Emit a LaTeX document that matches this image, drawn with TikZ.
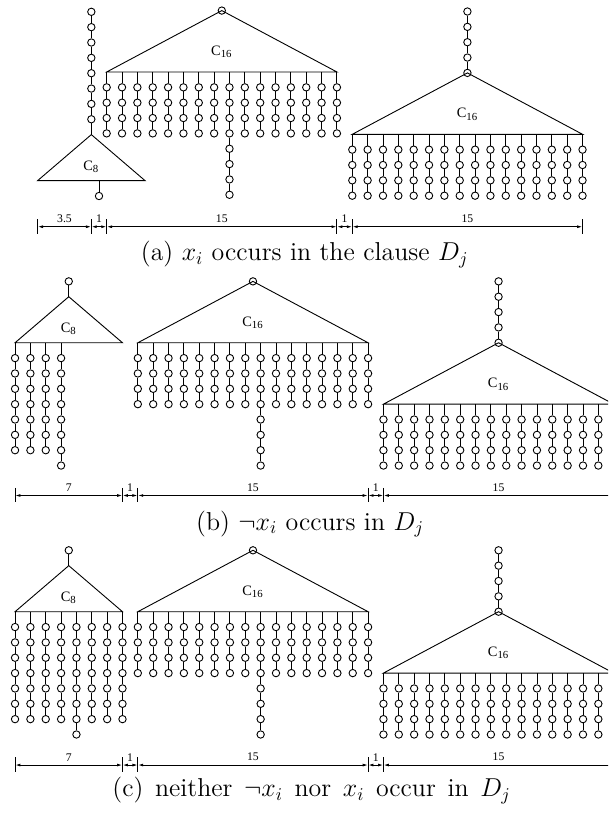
\documentclass[tikz,border=0pt]{standalone}
\usepackage{fontspec}
\newfontfamily\timesfont{Liberation Serif}
\usetikzlibrary{arrows.meta,calc}

\tikzset{
  vtx/.style={draw, circle, inner sep=0pt, minimum size=1.44mm},
  tlab/.style={font=\timesfont\fontsize{8}{9}\selectfont, inner sep=0pt},
  dlab/.style={font=\timesfont\fontsize{6.5}{7}\selectfont, inner sep=0.5pt},
  dimline/.style={{Latex[length=3pt,width=1.6pt]}-{Latex[length=3pt,width=1.6pt]}},
  captext/.style={font=\fontsize{14.4}{17}\selectfont, anchor=base, inner sep=0pt},
}

% chain of #3 circles #2-1,... hanging from #1, going up (#4=1) or down (#4=-1)
\newcommand{\chain}[4]{%
  \foreach \k [count=\p from 0] in {1,...,#3}{
    \path (#1) ++(0,#4*\k) node[vtx] (#2-\k) {};
    \ifnum\k=1 \draw (#1) -- (#2-1); \else \draw (#2-\p) -- (#2-\k); \fi
  }}

% triangle #1, left corner #2, width #3, height #4
\newcommand{\tri}[4]{%
  \coordinate (#1-l) at #2;
  \coordinate (#1-r) at ($(#1-l)+(#3,0)$);
  \coordinate (#1-a) at ($(#1-l)+(#3/2,#4)$);
  \draw (#1-l) -- (#1-a) -- (#1-r) -- cycle;}

% legs under triangle #1, list of position/length
\newcommand{\legs}[2]{%
  \foreach \c/\len in {#2}{
    \coordinate (#1-c\c) at ($(#1-l)+(\c,0)$);
    \chain{#1-c\c}{#1-c\c}{\len}{-1}}}

\newcommand{\smalltree}[2]{%
  \tri{#1}{#2}{7}{3}
  \node[tlab] (#1-lab) at ($(#1-l)+(3.5,0.9)$) {C\textsubscript{8}};}

% C16 block, middle leg of length #3
\newcommand{\bigtree}[3]{%
  \tri{#1}{#2}{15}{4}
  \node[vtx] (#1-top) at (#1-a) {};
  \node[tlab] (#1-lab) at ($(#1-l)+(7.5,1.3)$) {C\textsubscript{16}};
  \foreach \c in {0,...,15}{
    \pgfmathtruncatemacro\len{\c==8 ? #3 : 4}
    \coordinate (#1-c\c) at ($(#1-l)+(\c,0)$);
    \chain{#1-c\c}{#1-c\c}{\len}{-1}}}

% dimension line #1 at height #2, ticks x/label of the part before
\newcommand{\dims}[3]{%
  \foreach \x/\t [count=\i from 0] in {#3}{
    \coordinate (#1\i) at (\x,#2);
    \draw (#1\i) ++(0,0.5) -- ++(0,-0.95);
    \ifnum\i>0 \pgfmathtruncatemacro\h{\i-1}
      \draw[dimline] (#1\h) -- (#1\i) node[dlab, midway, above=1.5pt] {\t}; \fi}}

\begin{document}
\begin{tikzpicture}[x=0.3cm, y=0.3cm, line width=0.5pt]
\useasboundingbox (0,0) rectangle (39.61,-53.16);
\clip (0,0) rectangle (39.61,-53.16);

% (a)
\smalltree{a8}{(2.45,-11.77)}
\chain{a8-a}{a8-up}{8}{1}
\legs{a8}{4/1}
\bigtree{am}{(6.95,-4.69)}{8}
\bigtree{ar}{(22.95,-8.75)}{4}
\chain{ar-top}{ar-up}{4}{1}
\dims{ad}{-14.77}{2.45/-, 5.95/3.5, 6.95/1, 21.95/15, 22.95/1, 37.95/15}
\node[captext] (capa) at (19.85,-16.98) {(a) $x_i$ occurs in the clause $D_j$};

% (b)
\smalltree{b8}{(0.98,-22.33)}
\chain{b8-a}{b8-up}{1}{1}
\legs{b8}{0/7, 1/7, 2/7, 3/8}
\bigtree{bm}{(8.98,-22.33)}{8}
\bigtree{br}{(24.98,-26.33)}{4}
\chain{br-top}{br-up}{4}{1}
\dims{bd}{-32.28}{0.98/-, 7.98/7, 8.98/1, 23.98/15, 24.98/1, 39.98/15}
\node[captext] (capb) at (20.2,-34.53) {(b) $\neg x_i$ occurs in $D_j$};

% (c)
\smalltree{c8}{(0.98,-39.85)}
\chain{c8-a}{c8-up}{1}{1}
\legs{c8}{0/7, 1/7, 2/7, 3/7, 4/8, 5/7, 6/7, 7/7}
\bigtree{cm}{(8.98,-39.85)}{8}
\bigtree{cr}{(24.98,-43.85)}{4}
\chain{cr-top}{cr-up}{4}{1}
\dims{cd}{-49.84}{0.98/-, 7.98/7, 8.98/1, 23.98/15, 24.98/1, 39.98/15}
\node[captext] (capc) at (20.3,-51.9) {\spaceskip=0.45em (c) neither $\neg x_i$ nor $x_i$ occur in $D_j$};
\end{tikzpicture}
\end{document}
